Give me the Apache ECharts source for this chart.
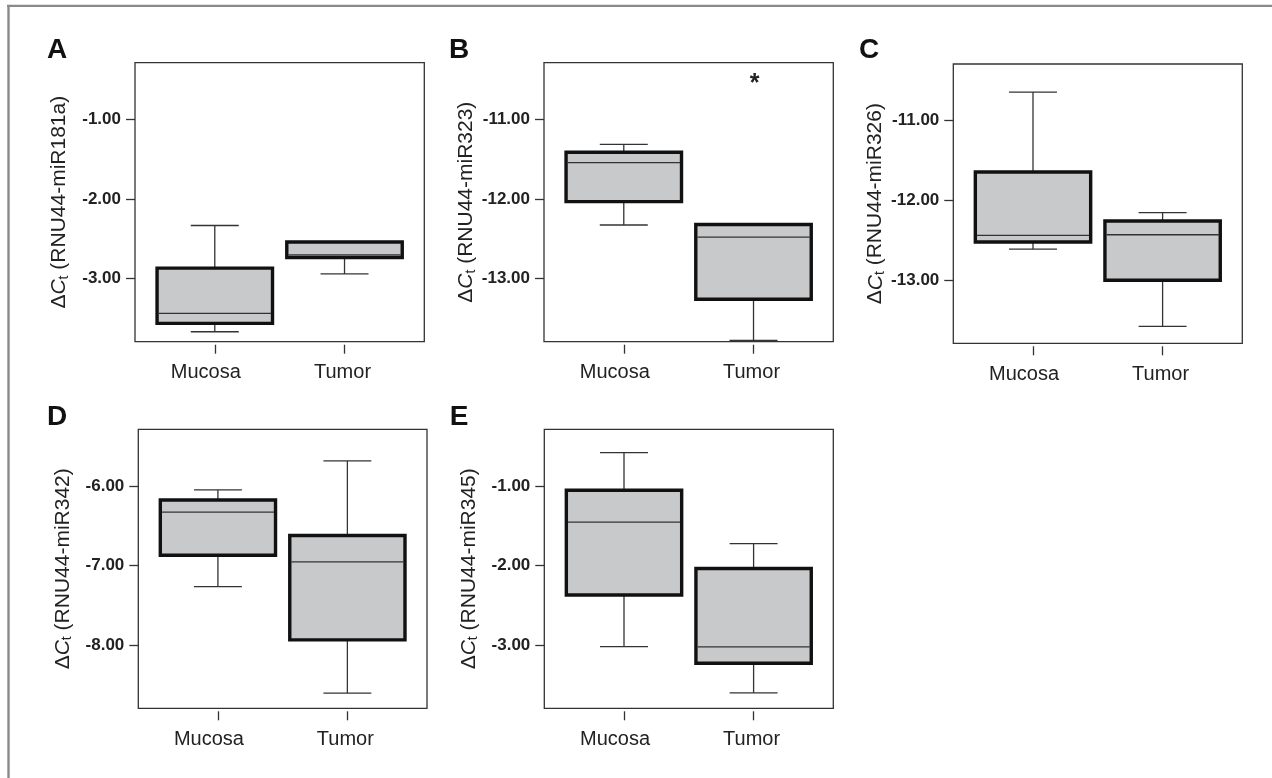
<!DOCTYPE html>
<html>
<head>
<meta charset="utf-8">
<script src="https://cdn.jsdelivr.net/npm/echarts@6/dist/echarts.min.js"></script>
<style>
  html, body { margin: 0; padding: 0; background: #fff; }
  #chart { width: 1272px; height: 778px; }
</style>
</head>
<body>
<div id="chart"></div>
<script>
// ---- data ----
const categories = ['Mucosa', 'Tumor'];
const panelLetters = ['A', 'B', 'C', 'D', 'E'];
const mirNames = ['miR181a', 'miR323', 'miR326', 'miR342', 'miR345'];
const yTicks = [[-1, -2, -3], [-11, -12, -13], [-11, -12, -13], [-6, -7, -8], [-1, -2, -3]];
const yMin = [-3.79, -13.79, -13.79, -8.79, -3.79];
const yMax = [-0.29, -10.29, -10.29, -5.29, -0.29];

// [min, Q1, median, Q3, max] for Mucosa, Tumor
const statsA = [[-3.665, -3.56, -3.435, -2.867, -2.332], [-2.94, -2.733, -2.70, -2.54, -2.54]];
const statsB = [[-12.326, -12.033, -11.544, -11.414, -11.314], [-13.773, -13.258, -12.477, -12.32, -12.32]];
const statsC = [[-12.61, -12.52, -12.437, -11.644, -10.642], [-13.578, -13.0, -12.43, -12.258, -12.153]];
const statsD = [[-7.263, -6.87, -6.33, -6.176, -6.05], [-8.60, -7.932, -6.954, -6.623, -5.686]];
const statsE = [[-3.016, -2.368, -1.455, -1.054, -0.582], [-3.597, -3.225, -3.02, -2.037, -1.724]];
// outliers: [category index (1-based), value]
const outliersB = [[2, -10.51]];

const allStats = [statsA, statsB, statsC, statsD, statsE];
const allOutliers = [[], outliersB, [], [], []];

// ---- layout ----
const FONT = '"Liberation Sans", Arial, Helvetica, sans-serif';
const frames = [
  [135, 62.7, 289.3, 279],
  [544, 62.7, 289.3, 279],
  [953.3, 64, 289, 279.3],
  [138.3, 429.3, 288.7, 279],
  [544.3, 429.3, 289, 279]
];
const letterPos = [[57, 50], [459, 50], [869, 50], [57, 417], [459, 417]];
const BOX_W = 0.89, CAP_W = 0.37;

function renderBox(params, api) {
  const x = api.value(0);
  const lo = api.coord([x, api.value(1)]);
  const q1 = api.coord([x, api.value(2)]);
  const md = api.coord([x, api.value(3)]);
  const q3 = api.coord([x, api.value(4)]);
  const hi = api.coord([x, api.value(5)]);
  const bw = api.size([BOX_W, 0])[0];
  const cw = api.size([CAP_W, 0])[0];
  const cx = lo[0];
  const thin = { stroke: '#333', lineWidth: 1.3 };
  const kids = [];
  if (Math.abs(hi[1] - q3[1]) > 0.5) {
    kids.push({ type: 'line', shape: { x1: cx, y1: q3[1], x2: cx, y2: hi[1] }, style: thin });
    kids.push({ type: 'line', shape: { x1: cx - cw / 2, y1: hi[1], x2: cx + cw / 2, y2: hi[1] }, style: thin });
  }
  if (Math.abs(lo[1] - q1[1]) > 0.5) {
    kids.push({ type: 'line', shape: { x1: cx, y1: q1[1], x2: cx, y2: lo[1] }, style: thin });
    kids.push({ type: 'line', shape: { x1: cx - cw / 2, y1: lo[1], x2: cx + cw / 2, y2: lo[1] }, style: thin });
  }
  kids.push({
    type: 'rect',
    shape: { x: cx - bw / 2, y: q3[1], width: bw, height: q1[1] - q3[1] },
    style: { fill: '#c8c9cb', stroke: '#111', lineWidth: 3.4 }
  });
  kids.push({ type: 'line', shape: { x1: cx - bw / 2 + 1.5, y1: md[1], x2: cx + bw / 2 - 1.5, y2: md[1] }, style: thin });
  return { type: 'group', children: kids };
}

function renderStar(params, api) {
  const p = api.coord([api.value(0), api.value(1)]);
  return {
    type: 'text', x: p[0] + 1, y: p[1] + 4,
    style: { text: '*', fontSize: 25, fontWeight: 'bold', fontFamily: FONT, fill: '#222', align: 'center', verticalAlign: 'middle' }
  };
}

const grids = [], xAxes = [], yAxes = [], series = [], graphics = [];

frames.forEach((f, i) => {
  grids.push({
    left: f[0], top: f[1], width: f[2], height: f[3],
    show: true, borderColor: '#333', borderWidth: 1.3, backgroundColor: 'transparent',
    outerBoundsMode: 'none'
  });
  xAxes.push({
    gridIndex: i, type: 'value', min: 0.385, max: 2.615, offset: 3,
    axisLine: { show: false }, splitLine: { show: false },
    axisTick: { show: true, length: 9, customValues: [1, 2], lineStyle: { color: '#333', width: 1.3 } },
    axisLabel: {
      customValues: [1, 2],
      formatter: v => (Math.round(v) === 1 ? '{m|' : '{t|') + categories[Math.round(v) - 1] + '}',
      margin: 18, fontSize: 20, color: '#222', fontFamily: FONT,
      rich: {
        m: { fontSize: 20, color: '#222', fontFamily: FONT, padding: [0, 18, 0, 0] },
        t: { fontSize: 20, color: '#222', fontFamily: FONT, padding: [0, 4, 0, 0] }
      }
    }
  });
  yAxes.push({
    gridIndex: i, type: 'value', min: yMin[i], max: yMax[i],
    axisLine: { show: false }, splitLine: { show: false },
    axisTick: { show: true, length: 9, customValues: yTicks[i], lineStyle: { color: '#333', width: 1.3 } },
    axisLabel: {
      customValues: yTicks[i], formatter: v => v.toFixed(2),
      margin: 14, fontSize: 17, fontWeight: 'bold', color: '#222', fontFamily: FONT
    },
    name: '{d|Δ}{c|C}{s|t}{n| (RNU44-' + mirNames[i] + ')}',
    nameLocation: 'middle', nameGap: 64, nameRotate: 90,
    nameTextStyle: {
      fontSize: 21, color: '#222', fontFamily: FONT,
      rich: {
        d: { fontSize: 21, lineHeight: 23, color: '#222', fontFamily: FONT },
        c: { fontSize: 21, lineHeight: 23, fontStyle: 'italic', color: '#222', fontFamily: FONT },
        s: { fontSize: 14, lineHeight: 14, verticalAlign: 'bottom', color: '#222', fontFamily: FONT },
        n: { fontSize: 21, lineHeight: 23, color: '#222', fontFamily: FONT }
      }
    }
  });
  series.push({
    type: 'custom', xAxisIndex: i, yAxisIndex: i, silent: true, clip: false,
    data: allStats[i].map((s, k) => [k + 1].concat(s)),
    encode: { x: 0, y: [1, 2, 3, 4, 5] },
    renderItem: renderBox
  });
  if (allOutliers[i].length) {
    series.push({
      type: 'custom', xAxisIndex: i, yAxisIndex: i, silent: true, clip: false,
      data: allOutliers[i],
      encode: { x: 0, y: 1 },
      renderItem: renderStar
    });
  }
  graphics.push({
    type: 'text', x: letterPos[i][0], y: letterPos[i][1],
    style: { text: panelLetters[i], fontSize: 28, fontWeight: 'bold', fontFamily: FONT, fill: '#111', align: 'center', verticalAlign: 'middle' }
  });
});

// figure border (top and left)
graphics.push({ type: 'line', shape: { x1: 7, y1: 5.8, x2: 1272, y2: 5.8 }, style: { stroke: '#8a8a8a', lineWidth: 2.2 } });
graphics.push({ type: 'line', shape: { x1: 8.5, y1: 5, x2: 8.5, y2: 778 }, style: { stroke: '#8a8a8a', lineWidth: 2.4 } });

const chart = echarts.init(document.getElementById('chart'), null, { renderer: 'canvas' });
chart.setOption({
  animation: false,
  backgroundColor: '#fff',
  grid: grids,
  xAxis: xAxes,
  yAxis: yAxes,
  series: series,
  graphic: graphics
});
</script>
</body>
</html>
